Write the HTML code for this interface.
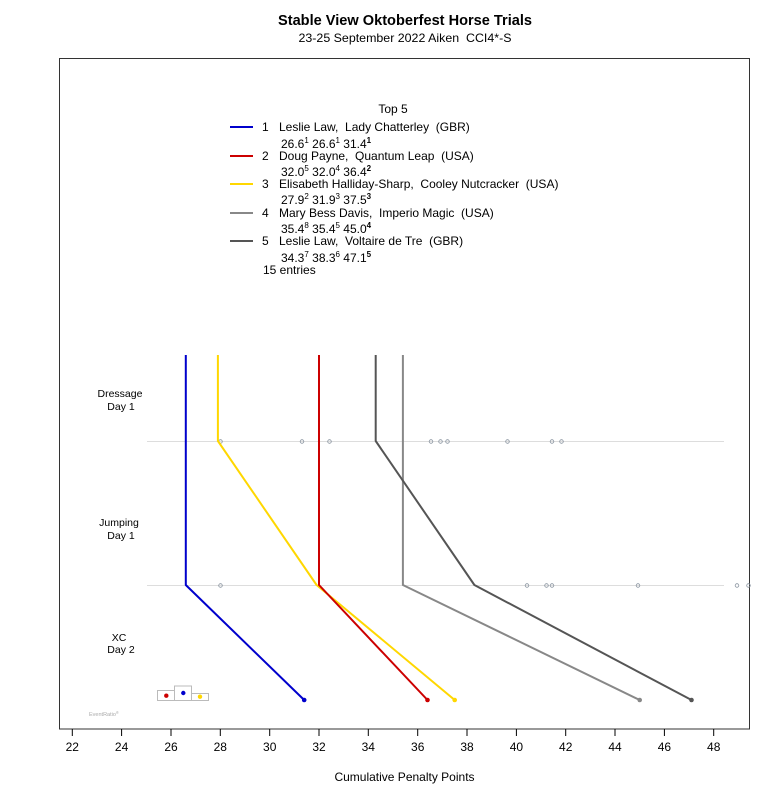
<!DOCTYPE html>
<html><head><meta charset="utf-8"><style>
html,body{margin:0;padding:0;background:#fff;}
svg{display:block;font-family:"Liberation Sans",Arial,sans-serif;}
text{white-space:pre;}
</style></head><body>
<svg width="780" height="800" viewBox="0 0 780 800" xmlns="http://www.w3.org/2000/svg" xml:space="preserve">
<rect width="780" height="800" fill="#fff"/>
<text x="405" y="25" font-size="14.5" font-weight="bold" text-anchor="middle" textLength="254" lengthAdjust="spacingAndGlyphs">Stable View Oktoberfest Horse Trials</text>
<text x="405" y="42" font-size="12" text-anchor="middle" textLength="213" lengthAdjust="spacingAndGlyphs">23-25 September 2022 Aiken  CCI4*-S</text>
<rect x="59.5" y="58.5" width="690" height="670.5" fill="none" stroke="#333" stroke-width="1"/>
<g font-size="12" fill="#000">
<text x="393" y="113" text-anchor="middle">Top 5</text>
<line x1="230" y1="127" x2="253" y2="127" stroke="#0000cc" stroke-width="2"/>
<text x="262" y="131">1</text>
<text x="279" y="131">Leslie Law,  Lady Chatterley  (GBR)</text>
<text x="281" y="148">26.6<tspan font-size="8" dy="-5">1</tspan><tspan dy="5"> 26.6</tspan><tspan font-size="8" dy="-5">1</tspan><tspan dy="5"> 31.4</tspan><tspan font-size="8" font-weight="bold" dy="-5">1</tspan></text>
<line x1="230" y1="156" x2="253" y2="156" stroke="#cc0000" stroke-width="2"/>
<text x="262" y="160">2</text>
<text x="279" y="160">Doug Payne,  Quantum Leap  (USA)</text>
<text x="281" y="176">32.0<tspan font-size="8" dy="-5">5</tspan><tspan dy="5"> 32.0</tspan><tspan font-size="8" dy="-5">4</tspan><tspan dy="5"> 36.4</tspan><tspan font-size="8" font-weight="bold" dy="-5">2</tspan></text>
<line x1="230" y1="184" x2="253" y2="184" stroke="#ffd700" stroke-width="2"/>
<text x="262" y="188">3</text>
<text x="279" y="188">Elisabeth Halliday-Sharp,  Cooley Nutcracker  (USA)</text>
<text x="281" y="204">27.9<tspan font-size="8" dy="-5">2</tspan><tspan dy="5"> 31.9</tspan><tspan font-size="8" dy="-5">3</tspan><tspan dy="5"> 37.5</tspan><tspan font-size="8" font-weight="bold" dy="-5">3</tspan></text>
<line x1="230" y1="213" x2="253" y2="213" stroke="#888" stroke-width="2"/>
<text x="262" y="217">4</text>
<text x="279" y="217">Mary Bess Davis,  Imperio Magic  (USA)</text>
<text x="281" y="233">35.4<tspan font-size="8" dy="-5">8</tspan><tspan dy="5"> 35.4</tspan><tspan font-size="8" dy="-5">5</tspan><tspan dy="5"> 45.0</tspan><tspan font-size="8" font-weight="bold" dy="-5">4</tspan></text>
<line x1="230" y1="241" x2="253" y2="241" stroke="#555" stroke-width="2"/>
<text x="262" y="245">5</text>
<text x="279" y="245">Leslie Law,  Voltaire de Tre  (GBR)</text>
<text x="281" y="262">34.3<tspan font-size="8" dy="-5">7</tspan><tspan dy="5"> 38.3</tspan><tspan font-size="8" dy="-5">6</tspan><tspan dy="5"> 47.1</tspan><tspan font-size="8" font-weight="bold" dy="-5">5</tspan></text>
<text x="263" y="274">15 entries</text>
</g>
<g font-size="10.5" fill="#000" text-anchor="middle">
<text x="120" y="397">Dressage</text>
<text x="121" y="410">Day 1</text>
<text x="119" y="526">Jumping</text>
<text x="121" y="539">Day 1</text>
<text x="119" y="641">XC</text>
<text x="121" y="653">Day 2</text>
</g>
<line x1="147" y1="441.5" x2="724" y2="441.5" stroke="#ddd" stroke-width="1"/>
<line x1="147" y1="585.5" x2="724" y2="585.5" stroke="#ddd" stroke-width="1"/>
<g fill="none" stroke="#8a94a0" stroke-width="0.8">
<circle cx="220.5" cy="441.5" r="1.8"/>
<circle cx="302" cy="441.5" r="1.8"/>
<circle cx="329.5" cy="441.5" r="1.8"/>
<circle cx="431" cy="441.5" r="1.8"/>
<circle cx="440.5" cy="441.5" r="1.8"/>
<circle cx="447.5" cy="441.5" r="1.8"/>
<circle cx="507.5" cy="441.5" r="1.8"/>
<circle cx="552" cy="441.5" r="1.8"/>
<circle cx="561.5" cy="441.5" r="1.8"/>
<circle cx="220.5" cy="585.5" r="1.8"/>
<circle cx="527" cy="585.5" r="1.8"/>
<circle cx="546.5" cy="585.5" r="1.8"/>
<circle cx="552" cy="585.5" r="1.8"/>
<circle cx="638" cy="585.5" r="1.8"/>
<circle cx="737" cy="585.5" r="1.8"/>
<circle cx="748.5" cy="585.5" r="1.8"/>
</g>
<g fill="none" stroke-width="2" stroke-linejoin="round">
<polyline points="402.9,355 402.9,441 402.9,585 639.7,700" stroke="#888"/>
<polyline points="375.7,355 375.7,441 474.4,585 691.5,700" stroke="#555"/>
<polyline points="217.9,355 217.9,441 316.6,585 454.7,700" stroke="#ffd700"/>
<polyline points="319,355 319,441 319,585 427.5,700" stroke="#cc0000"/>
<polyline points="185.8,355 185.8,441 185.8,585 304.2,700" stroke="#0000cc"/>
</g>
<circle cx="639.7" cy="700" r="2.3" fill="#888"/>
<circle cx="691.5" cy="700" r="2.3" fill="#555"/>
<circle cx="454.7" cy="700" r="2.3" fill="#ffd700"/>
<circle cx="427.5" cy="700" r="2.3" fill="#cc0000"/>
<circle cx="304.2" cy="700" r="2.3" fill="#0000cc"/>
<g fill="none" stroke="#bbb" stroke-width="1">
<rect x="157.5" y="690.5" width="17" height="10"/>
<rect x="174.5" y="686" width="17" height="14.5"/>
<rect x="191.5" y="693.5" width="17" height="7"/>
</g>
<circle cx="166.3" cy="695.7" r="2.2" fill="#cc0000"/>
<circle cx="183.3" cy="693" r="2.2" fill="#0000cc"/>
<circle cx="200" cy="696.7" r="2.2" fill="#ffd700"/>
<text x="89" y="716" font-size="5.5" fill="#aaa">EventRatio<tspan font-size="4" dy="-2">®</tspan></text>
<g stroke="#000" stroke-width="1">
<line x1="72.3" y1="729" x2="72.3" y2="736"/>
<line x1="121.6" y1="729" x2="121.6" y2="736"/>
<line x1="171" y1="729" x2="171" y2="736"/>
<line x1="220.3" y1="729" x2="220.3" y2="736"/>
<line x1="269.7" y1="729" x2="269.7" y2="736"/>
<line x1="319" y1="729" x2="319" y2="736"/>
<line x1="368.3" y1="729" x2="368.3" y2="736"/>
<line x1="417.7" y1="729" x2="417.7" y2="736"/>
<line x1="467" y1="729" x2="467" y2="736"/>
<line x1="516.4" y1="729" x2="516.4" y2="736"/>
<line x1="565.7" y1="729" x2="565.7" y2="736"/>
<line x1="615" y1="729" x2="615" y2="736"/>
<line x1="664.4" y1="729" x2="664.4" y2="736"/>
<line x1="713.7" y1="729" x2="713.7" y2="736"/>
</g>
<g font-size="12" text-anchor="middle" fill="#000">
<text x="72.3" y="751">22</text>
<text x="121.6" y="751">24</text>
<text x="171" y="751">26</text>
<text x="220.3" y="751">28</text>
<text x="269.7" y="751">30</text>
<text x="319" y="751">32</text>
<text x="368.3" y="751">34</text>
<text x="417.7" y="751">36</text>
<text x="467" y="751">38</text>
<text x="516.4" y="751">40</text>
<text x="565.7" y="751">42</text>
<text x="615" y="751">44</text>
<text x="664.4" y="751">46</text>
<text x="713.7" y="751">48</text>
<text x="404.5" y="781">Cumulative Penalty Points</text>
</g>
</svg>
</body></html>
